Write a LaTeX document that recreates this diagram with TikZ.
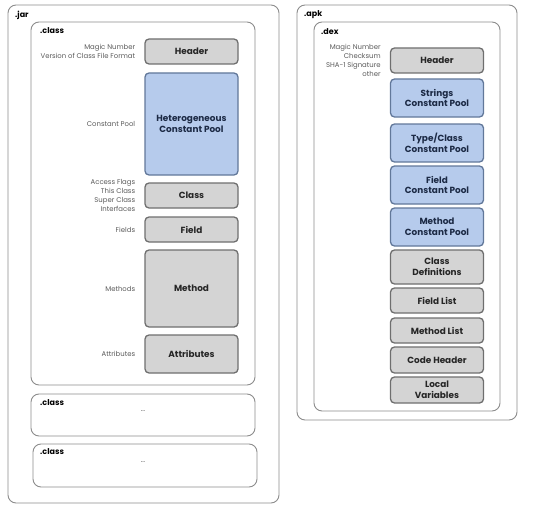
\documentclass[tikz,border=0pt]{standalone}
\usepackage{fontspec}
\setmainfont{Poppins}
\usetikzlibrary{positioning}
\definecolor{boxgray}{HTML}{D4D4D4}
\definecolor{edgegray}{HTML}{6F6F6F}
\definecolor{boxblue}{HTML}{B6CBEC}
\definecolor{edgeblue}{HTML}{62789A}
\definecolor{inkblue}{HTML}{1C2A45}
\definecolor{framegray}{HTML}{8C8C8C}
\definecolor{lblgray}{HTML}{5A5A5A}
\tikzset{
	frame/.style={draw=framegray, line width=0.9pt, rounded corners=8pt},
	graybox/.style={draw=edgegray, fill=boxgray, line width=1.3pt, rounded corners=4pt, font=\fontsize{8.9}{10.8}\selectfont\bfseries, text=black!85, align=center, inner sep=0pt, minimum width=93pt},
	bluebox/.style={graybox, draw=edgeblue, fill=boxblue, text=inkblue},
	lbl/.style={font=\fontsize{6.9}{9.2}\selectfont, text=lblgray, align=right, inner sep=0pt},
	ttl/.style={font=\fontsize{8}{9}\selectfont\bfseries, anchor=west, inner sep=0pt},
}

\begin{document}
\begin{tikzpicture}[x=1pt, y=-1pt]
		%%%%% START %%%%%
		\useasboundingbox (0, 0) rectangle (557, 511);
		
		% .jar side
		\draw[frame] (8, 5) rectangle (279, 503);
		\node[ttl] (jar) at (15, 15) {.jar};
		\draw[frame] (31, 22) rectangle (255, 385);
		\node[ttl] (cls) at (40, 31) {.class};
		\draw[frame] (31, 394) rectangle (255, 436);
		\node[ttl] (clsb) at (40, 403) {.class};
		\node[lbl, text=black!70] (dotsb) at (143, 411) {...};
		\draw[frame] (33, 444) rectangle (257, 487);
		\node[ttl] (clsc) at (40, 452) {.class};
		\node[lbl, text=black!70] (dotsc) at (143, 462) {...};
		
		\node[graybox, minimum height=25pt] (jhead) at (191.5, 51.5) {Header};
		\node[bluebox, minimum height=102pt] (jpool) at (191.5, 124) {Heterogeneous\\Constant Pool};
		\node[graybox, minimum height=25pt] (jclass) at (191.5, 195.5) {Class};
		\node[graybox, minimum height=25pt] (jfield) at (191.5, 229.5) {Field};
		\node[graybox, minimum height=77pt] (jmeth) at (191.5, 288.5) {Method};
		\node[graybox, minimum height=38pt] (jattr) at (191.5, 354) {Attributes};
		
		\node[lbl, left=9pt of jhead] (jheadl) {Magic Number\\Version of Class File Format};
		\node[lbl, left=9pt of jpool] (jpooll) {Constant Pool};
		\node[lbl, left=9pt of jclass] (jclassl) {Access Flags\\This Class\\Super Class\\Interfaces};
		\node[lbl, left=9pt of jfield] (jfieldl) {Fields};
		\node[lbl, left=9pt of jmeth] (jmethl) {Methods};
		\node[lbl, left=9pt of jattr] (jattrl) {Attributes};
		
		% .apk side
		\draw[frame] (297, 5) rectangle (517, 420);
		\node[ttl] (apk) at (304, 15) {.apk};
		\draw[frame] (314, 22) rectangle (500, 411);
		\node[ttl] (dex) at (321, 32) {.dex};
		
		\node[graybox, minimum height=25pt] (dhead) at (437, 60.5) {Header};
		\node[bluebox, minimum height=38pt] (dstr) at (437, 98) {Strings\\Constant Pool};
		\node[bluebox, minimum height=38pt] (dtype) at (437, 143) {Type/Class\\Constant Pool};
		\node[bluebox, minimum height=38pt] (dfield) at (437, 185) {Field\\Constant Pool};
		\node[bluebox, minimum height=38pt] (dmeth) at (437, 227) {Method\\Constant Pool};
		\node[graybox, minimum height=34pt] (ddef) at (437, 267) {Class\\Definitions};
		\node[graybox, minimum height=25pt] (dflist) at (437, 300.5) {Field List};
		\node[graybox, minimum height=25pt] (dmlist) at (437, 330.5) {Method List};
		\node[graybox, minimum height=26pt] (dcode) at (437, 360) {Code Header};
		\node[graybox, minimum height=26pt] (dvars) at (437, 390) {Local\\Variables};
		
		\node[lbl, left=9pt of dhead] (dheadl) {Magic Number\\Checksum\\SHA-1 Signature\\other};
		
		%%%%% END %%%%%
\end{tikzpicture}
\end{document}
